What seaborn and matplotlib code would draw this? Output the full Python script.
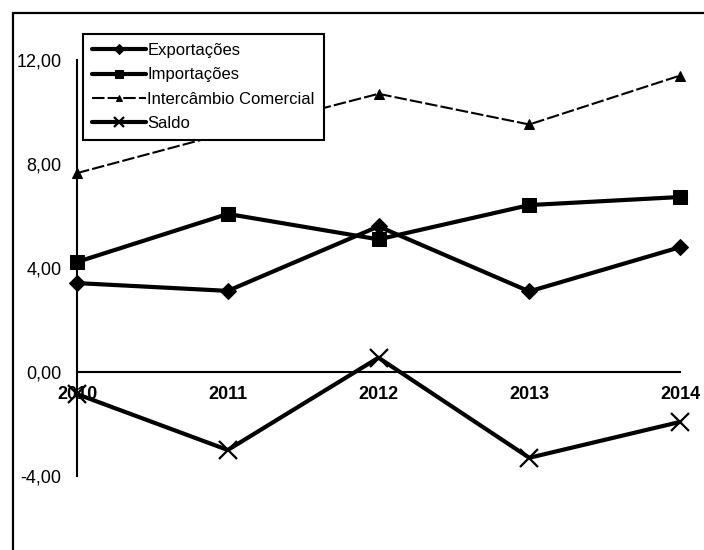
import matplotlib
matplotlib.use("Agg")
import matplotlib.pyplot as plt
import numpy as np
import pandas as pd
import seaborn as sns
from matplotlib.patches import Rectangle

# Values
anos = [2010, 2011, 2012, 2013, 2014]
exportacoes = [3.42, 3.12, 5.60, 3.10, 4.80]
importacoes = [4.23, 6.08, 5.10, 6.42, 6.73]
intercambio = [7.65, 9.20, 10.70, 9.52, 11.40]
saldo = [-0.85, -3.00, 0.55, -3.30, -1.92]
y_ticks = [-4, 0, 4, 8, 12]

df = pd.DataFrame({
    "ano": anos,
    "Exportações": exportacoes,
    "Importações": importacoes,
    "Intercâmbio Comercial": intercambio,
    "Saldo": saldo,
})

sns.set_style("white")
plt.rcParams['font.family'] = ['Liberation Sans', 'DejaVu Sans']
plt.rcParams['text.color'] = 'black'

fig = plt.figure(figsize=(7.04, 5.5), dpi=100)
ax = fig.add_axes([77 / 704, 1 - 476 / 550, (680 - 77) / 704, (476 - 60) / 550])
ax.patch.set_visible(False)

# outer frame of the picture (cut at the right and bottom)
fig.patches.append(Rectangle((13 / 704, -0.1), 1.2, 1 - 13 / 550 + 0.1,
                             transform=fig.transFigure, fill=False,
                             edgecolor="black", linewidth=1.6))

common = dict(ax=ax, color="black", markeredgecolor="black", clip_on=False)
sns.lineplot(data=df, x="ano", y="Exportações", linewidth=3, marker="D",
             markersize=8, label="Exportações", **common)
sns.lineplot(data=df, x="ano", y="Importações", linewidth=3, marker="s",
             markersize=10, label="Importações", **common)
sns.lineplot(data=df, x="ano", y="Intercâmbio Comercial", linewidth=1.5,
             linestyle=(0, (6, 1.5)), marker="^", markersize=7,
             label="Intercâmbio Comercial", **common)
sns.lineplot(data=df, x="ano", y="Saldo", linewidth=3, marker="x",
             markersize=13, markeredgewidth=1.6, label="Saldo", **common)

ax.spines["top"].set_visible(False)
ax.spines["right"].set_visible(False)
ax.spines["bottom"].set_position(("data", 0))
for s in ["left", "bottom"]:
    ax.spines[s].set_color("black")
    ax.spines[s].set_linewidth(1.5)

ax.set_xlim(2010, 2014)
ax.set_ylim(-4, 12)
ax.set_xlabel("")
ax.set_ylabel("")

ax.set_yticks(y_ticks)
ax.set_yticklabels([f"{v:.2f}".replace(".", ",") for v in y_ticks], fontsize=13)
ax.set_xticks(anos)
ax.set_xticklabels([str(a) for a in anos], fontsize=13, fontweight="bold")
ax.tick_params(axis="y", direction="inout", length=10, width=1.5, pad=6, colors="black")
ax.tick_params(axis="x", direction="inout", length=12, width=1.5, pad=4, colors="black")

leg = ax.legend(loc="upper left", bbox_to_anchor=(83 / 704, 1 - 34 / 550),
                bbox_transform=fig.transFigure, fontsize=12, frameon=True,
                fancybox=False, framealpha=1, handlelength=3.2,
                handletextpad=0.1, labelspacing=0.55, borderpad=0.55,
                borderaxespad=0, markerscale=0.6, labelcolor="black")
leg.get_frame().set_edgecolor("black")
leg.get_frame().set_linewidth(1.5)

fig.savefig("out.png", dpi=100)
